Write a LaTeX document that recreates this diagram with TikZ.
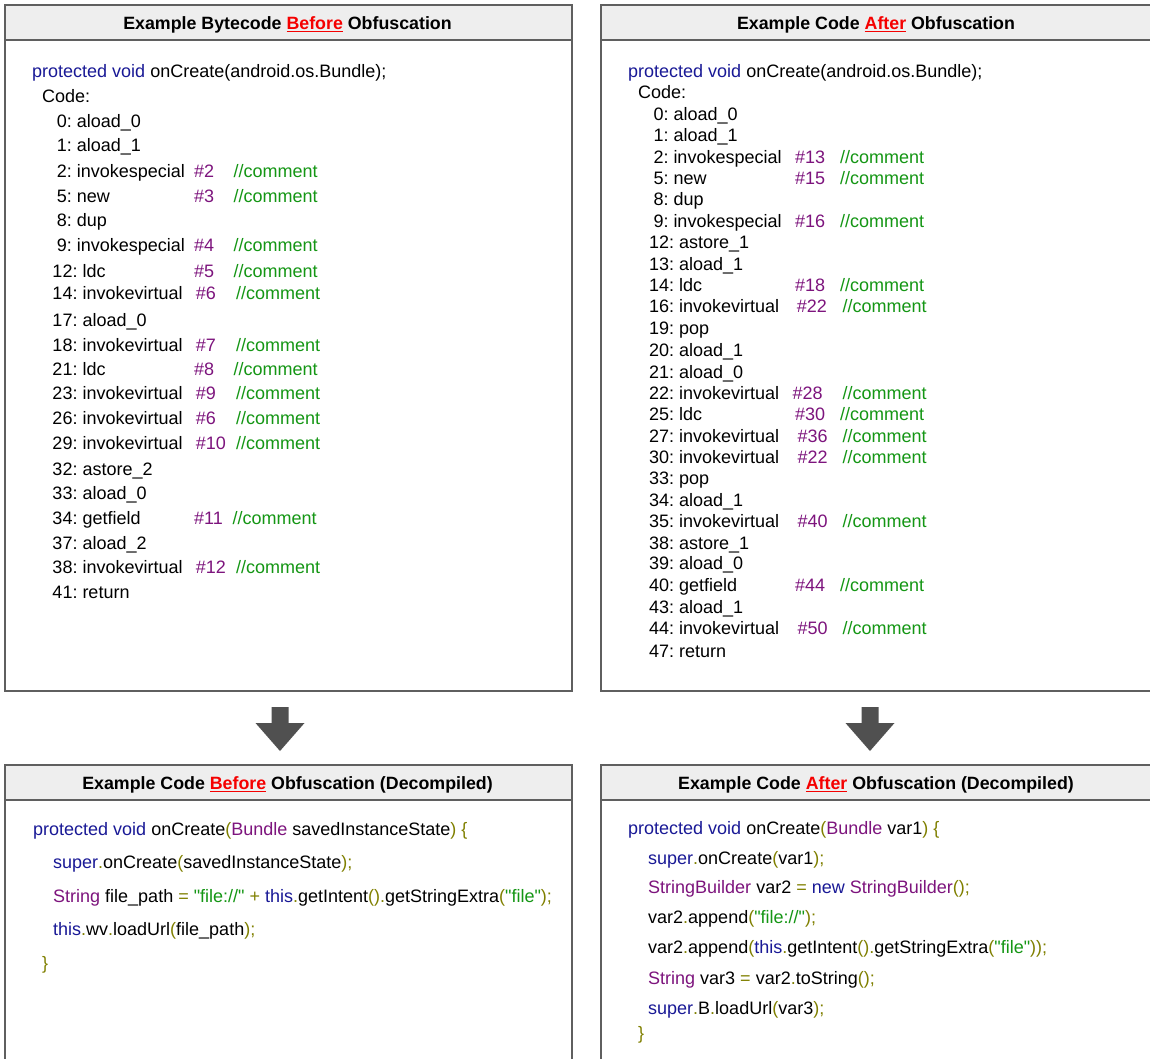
\documentclass[tikz,border=0pt]{standalone}
\usepackage{fontspec}
\setmainfont{Liberation Sans}
\usepackage{xcolor}
\definecolor{kw}{RGB}{25,25,150}
\definecolor{pu}{RGB}{125,20,125}
\definecolor{gr}{RGB}{20,150,20}
\definecolor{ol}{RGB}{128,128,0}
\definecolor{hdred}{RGB}{245,0,0}
\definecolor{hdfill}{RGB}{238,238,238}
\definecolor{frame}{RGB}{95,95,95}
\definecolor{arr}{RGB}{80,80,80}
\newcommand\Kw[1]{\textcolor{kw}{#1}}
\newcommand\Pu[1]{\textcolor{pu}{#1}}
\newcommand\Gr[1]{\textcolor{gr}{#1}}
\newcommand\Ol[1]{\textcolor{ol}{#1}}
\newcommand\qq{\textquotedbl}
\newcommand\ulred[1]{{\color{hdred}\setbox0\hbox{#1}\rlap{\rule[-2.6bp]{\wd0}{1.4bp}}\box0}}
\frenchspacing
\begin{document}
\begin{tikzpicture}[x=1bp,y=-1bp,
  panel/.style={draw=frame, line width=1.3bp, fill=white, inner sep=0pt, outer sep=0pt, anchor=north west},
  header/.style={draw=frame, line width=1.3bp, fill=hdfill, inner sep=0pt, outer sep=0pt, anchor=north west, minimum height=35bp},
  htitle/.style={font=\bfseries\fontsize{17.8bp}{20bp}\selectfont, inner sep=0pt, anchor=base},
  code/.style={anchor=base west, inner sep=0pt, font=\frenchspacing\fontsize{18bp}{20bp}\selectfont, text=black},
  blockarrow/.style={fill=arr}]
\useasboundingbox (0,0) rectangle (1150,1059);
% panels
\node[panel, minimum width=567bp, minimum height=686bp] (tl) at (5,5) {};
\node[header, minimum width=567bp] (tlh) at (5,5) {};
\node[panel, minimum width=551bp, minimum height=686bp] (tr) at (601,5) {};
\node[header, minimum width=551bp] (trh) at (601,5) {};
\node[panel, minimum width=567bp, minimum height=300bp] (bl) at (5,765) {};
\node[header, minimum width=567bp] (blh) at (5,765) {};
\node[panel, minimum width=551bp, minimum height=300bp] (br) at (601,765) {};
\node[header, minimum width=551bp] (brh) at (601,765) {};
% titles
\node[htitle] (tlt) at (287.5,29.4) {Example Bytecode \ulred{Before} Obfuscation};
\node[htitle] (trt) at (876,29.4) {Example Code \ulred{After} Obfuscation};
\node[htitle] (blt) at (287.5,789.4) {Example Code \ulred{Before} Obfuscation (Decompiled)};
\node[htitle] (brt) at (876,789.4) {Example Code \ulred{After} Obfuscation (Decompiled)};
% arrows
\coordinate (a1) at (280,707);
\coordinate (a2) at (870,707);
\foreach \a in {a1,a2}{
  \fill[blockarrow] ([xshift=-8.5bp]\a) -- ([xshift=8.5bp]\a) -- ([xshift=8.5bp,yshift=-16bp]\a)
    -- ([xshift=24.5bp,yshift=-16bp]\a) -- ([yshift=-44bp]\a) -- ([xshift=-24.5bp,yshift=-16bp]\a)
    -- ([xshift=-8.5bp,yshift=-16bp]\a) -- cycle;
}
% ---------- top left bytecode
\node[code] (tl0) at (32,77.4) {\Kw{protected void} onCreate(android.os.Bundle);};
\node[code] (tl00) at (42,102.4) {Code:};
\foreach \yy/\xx/\txt [count=\i] in {
  121/56.7/{0: aload\_0}, 145/56.7/{1: aload\_1}, 171/56.7/{2: invokespecial},
  196/56.7/{5: new}, 220/56.7/{8: dup}, 245/56.7/{9: invokespecial},
  270.7/52.3/{12: ldc}, 293.3/52.3/{14: invokevirtual}, 320/52.3/{17: aload\_0},
  345/52.3/{18: invokevirtual}, 369.3/52.3/{21: ldc}, 393.3/52.3/{23: invokevirtual},
  417.7/52.3/{26: invokevirtual}, 443.3/52.3/{29: invokevirtual}, 469.3/52.3/{32: astore\_2},
  493.3/52.3/{33: aload\_0}, 518.3/52.3/{34: getfield}, 542.7/52.3/{37: aload\_2},
  567/52.3/{38: invokevirtual}, 592/52.3/{41: return}}
  {\node[code] (tlL\i) at (\xx,\yy+6.4) {\txt};}
\foreach \yy/\hx/\hh/\cx [count=\i] in {
  171/194/2/233.5, 196/194/3/233.5, 245/194/4/233.5, 270.7/194/5/233.5,
  293.3/195.7/6/236, 345/195.7/7/236, 369.3/194/8/233.5, 393.3/195.7/9/236,
  417.7/195.7/6/236, 443.3/195.7/10/236, 518.3/194/11/232.3, 567/195.7/12/236}
  {\node[code, text=pu] (tlH\i) at (\hx,\yy+6.4) {\#\hh};
   \node[code, text=gr] (tlC\i) at (\cx,\yy+6.4) {//comment};}
% ---------- top right bytecode
\node[code] (tr0) at (628,77.4) {\Kw{protected void} onCreate(android.os.Bundle);};
\node[code] (tr00) at (638,98.4) {Code:};
\foreach \yy/\xx/\txt [count=\i] in {
  114/653.3/{0: aload\_0}, 135/653.3/{1: aload\_1}, 157.3/653.3/{2: invokespecial},
  178.3/653.3/{5: new}, 199.3/653.3/{8: dup}, 220.7/653.3/{9: invokespecial},
  242.3/649/{12: astore\_1}, 264/649/{13: aload\_1}, 285/649/{14: ldc},
  305.7/649/{16: invokevirtual}, 328/649/{19: pop}, 350/649/{20: aload\_1},
  372/649/{21: aload\_0}, 392.7/649/{22: invokevirtual}, 414.3/649/{25: ldc},
  436/649/{27: invokevirtual}, 456.7/649/{30: invokevirtual}, 478.3/649/{33: pop},
  500/649/{34: aload\_1}, 521/649/{35: invokevirtual}, 542.7/649/{38: astore\_1},
  563.3/649/{39: aload\_0}, 585/649/{40: getfield}, 606.7/649/{43: aload\_1},
  627.7/649/{44: invokevirtual}, 650.7/649/{47: return}}
  {\node[code] (trL\i) at (\xx,\yy+6.4) {\txt};}
\foreach \yy/\hx/\hh/\cx [count=\i] in {
  157.3/795/13/840, 178.3/795/15/840, 220.7/795/16/840, 285/795/18/840,
  305.7/796.7/22/842.3, 392.7/792.3/28/842.3, 414.3/795/30/840, 436/797.3/36/842.3,
  456.7/797.3/22/842.3, 521/797.3/40/842.3, 585/795/44/840, 627.7/797.3/50/842.3}
  {\node[code, text=pu] (trH\i) at (\hx,\yy+6.4) {\#\hh};
   \node[code, text=gr] (trC\i) at (\cx,\yy+6.4) {//comment};}
% ---------- bottom left decompiled
\node[code] (bl1) at (33,835.4) {\Kw{protected void} onCreate\Ol{(}\Pu{Bundle} savedInstanceState\Ol{) \{}};
\node[code] (bl2) at (53,868.4) {\Kw{super}\Ol{.}onCreate\Ol{(}savedInstanceState\Ol{);}};
\node[code] (bl3) at (53,902.4) {\Pu{String} file\_path \Ol{=} \Gr{\qq file://\qq} \Ol{+} \Kw{this}\Ol{.}getIntent\Ol{().}getStringExtra\Ol{(}\Gr{\qq file\qq}\Ol{);}};
\node[code] (bl4) at (53,935.4) {\Kw{this}\Ol{.}wv\Ol{.}loadUrl\Ol{(}file\_path\Ol{);}};
\node[code] (bl5) at (42,969) {\Ol{\}}};
% ---------- bottom right decompiled
\node[code] (br1) at (628,834.7) {\Kw{protected void} onCreate\Ol{(}\Pu{Bundle} var1\Ol{) \{}};
\node[code] (br2) at (648,864.7) {\Kw{super}\Ol{.}onCreate\Ol{(}var1\Ol{);}};
\node[code] (br3) at (648,893.7) {\Pu{StringBuilder} var2 \Ol{=} \Kw{new} \Pu{StringBuilder}\Ol{();}};
\node[code] (br4) at (648,923.7) {var2\Ol{.}append\Ol{(}\Gr{\qq file://\qq}\Ol{);}};
\node[code] (br5) at (648,953.1) {var2\Ol{.}append\Ol{(}\Kw{this}\Ol{.}getIntent\Ol{().}getStringExtra\Ol{(}\Gr{\qq file\qq}\Ol{));}};
\node[code] (br6) at (648,984.7) {\Pu{String} var3 \Ol{=} var2\Ol{.}toString\Ol{();}};
\node[code] (br7) at (648,1014.7) {\Kw{super}\Ol{.}B\Ol{.}loadUrl\Ol{(}var3\Ol{);}};
\node[code] (br8) at (638,1039) {\Ol{\}}};
\end{tikzpicture}
\end{document}
